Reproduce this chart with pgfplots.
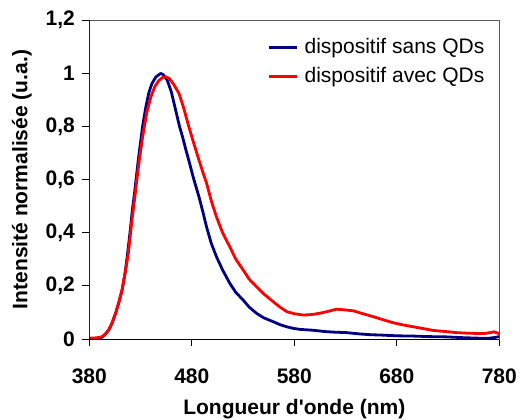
\documentclass[border=0pt]{standalone}
\usepackage{pgfplots}
\pgfplotsset{compat=1.18}
\usepackage{fontspec}
\setmainfont{Liberation Sans}
\definecolor{sansqd}{RGB}{0,0,128}
\definecolor{avecqd}{RGB}{255,0,0}
\begin{document}
\fontsize{10.5}{12.6}\selectfont
\begin{tikzpicture}
\useasboundingbox (-44.65pt,-40pt) rectangle (215.35pt,169.5pt);
\begin{axis}[
  at={(0,0)}, anchor=south west,
  scale only axis, width=205pt, height=159.5pt,
  xmin=380, xmax=780, ymin=0, ymax=1.2,
  xtick={380,480,580,680,780},
  ytick={0,0.2,0.4,0.6,0.8,1,1.2},
  minor tick num=0,
  tick align=outside, tick pos=left,
  major tick length=3.5pt,
  tick style={black, line width=0.5pt},
  axis line style={draw=gray!70!black, line width=0.5pt},
  /pgf/number format/use comma,
  /pgf/number format/assume math mode=true,
  ticklabel style={font=\bfseries},
  xticklabel style={yshift=-7.5pt},
  xlabel={\bfseries Longueur d\textquotesingle onde (nm)},
  ylabel={\bfseries Intensité normalisée (u.a.)},
  xlabel style={at={(axis description cs:0.5,-0.2382)}, anchor=base},
  ylabel style={at={(axis description cs:-0.1512,0.5)}, anchor=base},
  legend cell align=left,
  legend style={draw=none, fill=none, at={(rel axis cs:0.4327,0.8677)}, anchor=west,
    inner sep=0pt, column sep=3.35pt, row sep=4.5pt,
    nodes={inner sep=0pt, text height=8pt, text depth=2pt}},
  legend image code/.code={\draw[#1] (0pt,0pt) -- (14pt,0pt);},
  every axis plot/.append style={line width=1.4pt, line join=round},
]
\addplot[color=sansqd] coordinates {
(380,0) (385,0) (390,0.002) (393,0.008) (396,0.02) (399,0.034) (402,0.058)
(405.8,0.098) (409,0.14) (412,0.184) (415,0.25) (417,0.31) (420,0.41)
(422,0.485) (424,0.545) (428,0.68) (432,0.80) (435,0.87) (438,0.925)
(441,0.96) (445,0.986) (449.6,0.999) (452,0.995) (456,0.974) (460,0.93)
(464,0.865) (468,0.80) (471,0.76) (474,0.715) (477,0.673) (482,0.60)
(487,0.535) (491,0.475) (494.5,0.42) (499,0.36) (504,0.31) (510,0.26)
(517,0.21) (523,0.175) (530,0.147) (536,0.12) (543,0.097) (550,0.08)
(559.5,0.065) (566,0.054) (572.6,0.046) (579,0.04) (586,0.036) (598,0.033)
(610,0.028) (618,0.026) (631,0.024) (644,0.019) (655,0.016) (664,0.015)
(680,0.012) (696,0.011) (712,0.009) (728,0.008) (745,0.005) (761,0.003)
(770,0.003) (776,0.006) (780,0.009)
};
\addplot[color=avecqd] coordinates {
(380,0.003) (385,0.004) (390,0.006) (393,0.01) (396,0.02) (399,0.035)
(402,0.058) (406,0.1) (409,0.14) (412,0.185) (415,0.25) (418,0.32)
(420,0.39) (422,0.46) (424,0.52) (428,0.65) (432,0.76) (436,0.85)
(440,0.91) (444,0.95) (448,0.973) (452,0.985) (455,0.986) (458,0.98) (462,0.96)
(467.5,0.924) (472,0.87) (477,0.80) (482,0.735) (487,0.673) (491,0.625)
(494.5,0.585) (499,0.52) (504,0.46) (510,0.40) (517,0.347) (523,0.30)
(530,0.26) (536,0.225) (543,0.197) (551,0.167) (559.5,0.14) (566,0.12)
(572.6,0.103) (580,0.095) (588.8,0.09) (597,0.092) (605,0.097) (613,0.104)
(621,0.112) (628,0.11) (637.6,0.106) (647,0.095) (657,0.084) (667,0.072)
(676.6,0.061) (686,0.053) (696,0.046) (706,0.039) (716,0.032) (728,0.028)
(738,0.024) (748,0.022) (758,0.021) (766,0.021) (771,0.024) (775,0.027)
(780,0.02)
};
\legend{dispositif sans QDs, dispositif avec QDs}
\draw[black, line width=0.5pt] (rel axis cs:0,1) -- (rel axis cs:0,0) -- (rel axis cs:1,0);
\end{axis}
\end{tikzpicture}
\end{document}
